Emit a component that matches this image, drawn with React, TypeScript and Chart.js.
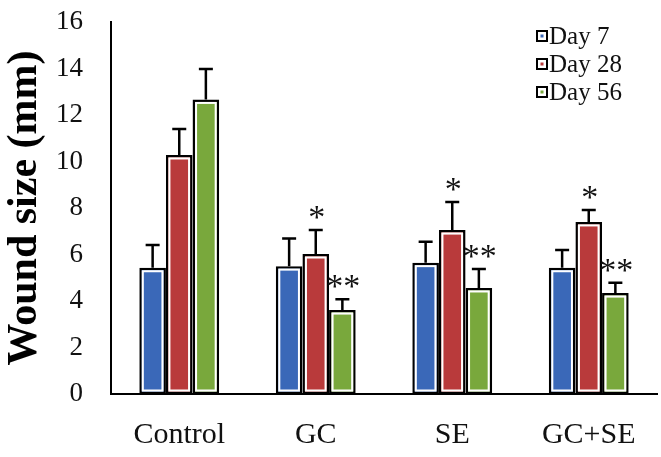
import React, { useEffect, useRef } from 'react';
import { Chart, registerables } from 'chart.js';

Chart.register(...registerables);

const categories = ['Control', 'GC', 'SE', 'GC+SE'];
const seriesNames = ['Day 7', 'Day 28', 'Day 56'];
const day7 = [5.43, 5.5, 5.65, 5.43];
const day28 = [10.28, 6.02, 7.05, 7.4];
const day56 = [12.67, 3.61, 4.56, 4.34];
const day7Err = [0.98, 1.19, 0.9, 0.76];
const day28Err = [1.12, 1.03, 1.21, 0.51];
const day56Err = [1.31, 0.47, 0.82, 0.45];
const day7Sig = ['', '', '', ''];
const day28Sig = ['', '*', '*', '*'];
const day56Sig = ['', '**', '**', '**'];
const yTicks = [0, 2, 4, 6, 8, 10, 12, 14, 16];

const colors = ['#3a68b8', '#b93a3b', '#79a83c'];
const errors = [day7Err, day28Err, day56Err];
const marks = [day7Sig, day28Sig, day56Sig];

const serif = '"Liberation Serif", "Times New Roman", serif';

// white ring inside the black bar border, then error bars and stars
const barDecor = {
    id: 'barDecor',
    afterDatasetsDraw(chart: any) {
        const ctx = chart.ctx;
        const yScale = chart.scales.y;
        chart.data.datasets.forEach((ds: any, di: number) => {
            const meta = chart.getDatasetMeta(di);
            meta.data.forEach((el: any, i: number) => {
                const { x, y, base, width } = el.getProps(['x', 'y', 'base', 'width'], true);
                const left = x - width / 2;
                ctx.save();
                ctx.strokeStyle = '#ffffff';
                ctx.lineWidth = 2;
                ctx.strokeRect(left + 3.5, y + 3.5, width - 7, base - y - 7);

                const capY = yScale.getPixelForValue(ds.data[i] + errors[di][i]);
                ctx.strokeStyle = '#000000';
                ctx.lineWidth = 2.5;
                ctx.beginPath();
                ctx.moveTo(x, y);
                ctx.lineTo(x, capY);
                ctx.moveTo(x - 7, capY);
                ctx.lineTo(x + 7, capY);
                ctx.stroke();

                const mark = marks[di][i];
                if (mark) {
                    ctx.fillStyle = '#111111';
                    ctx.font = '34px ' + serif;
                    ctx.textAlign = 'center';
                    ctx.textBaseline = 'alphabetic';
                    ctx.fillText(mark, x + 1, capY - 2);
                }
                ctx.restore();
            });
        });
    },
};

const cornerLegend = {
    id: 'cornerLegend',
    afterDraw(chart: any) {
        const ctx = chart.ctx;
        const area = chart.chartArea;
        const x0 = area.right - 120;
        ctx.save();
        chart.data.datasets.forEach((ds: any, i: number) => {
            const cy = area.top + 14 + i * 28;
            ctx.fillStyle = '#ffffff';
            ctx.fillRect(x0, cy - 5, 10, 10);
            ctx.strokeStyle = '#000000';
            ctx.lineWidth = 2;
            ctx.strokeRect(x0, cy - 5, 10, 10);
            ctx.fillStyle = ds.backgroundColor;
            ctx.fillRect(x0 + 3.5, cy - 1.5, 3, 3);
            ctx.fillStyle = '#111111';
            ctx.font = '25px ' + serif;
            ctx.textAlign = 'left';
            ctx.textBaseline = 'middle';
            ctx.fillText(ds.label, x0 + 12, cy + 1);
        });
        ctx.restore();
    },
};

const WoundChart = () => {
    const canvasRef = useRef<HTMLCanvasElement | null>(null);

    useEffect(() => {
        if (!canvasRef.current) return;

        const chart = new Chart(canvasRef.current, {
            type: 'bar',
            data: {
                labels: categories,
                datasets: [day7, day28, day56].map((values, i) => ({
                    label: seriesNames[i],
                    data: values,
                    backgroundColor: colors[i],
                    borderColor: '#000000',
                    borderWidth: 2.5,
                    borderSkipped: false,
                    barPercentage: 1,
                    categoryPercentage: 0.585,
                })),
            },
            options: {
                animation: false,
                responsive: true,
                maintainAspectRatio: false,
                layout: { padding: { top: 22, right: 4, left: 0, bottom: 0 } },
                plugins: {
                    legend: { display: false },
                    tooltip: { enabled: false },
                },
                scales: {
                    x: {
                        grid: { display: false },
                        border: { display: true, color: '#000000', width: 2 },
                        ticks: {
                            color: '#111111',
                            font: { family: serif, size: 30 },
                            padding: 15,
                        },
                        afterFit(scale: any) {
                            scale.height = 63;
                            scale.paddingLeft = 0;
                            scale.paddingRight = 0;
                        },
                    },
                    y: {
                        min: 0,
                        max: 16,
                        afterBuildTicks(scale: any) {
                            scale.ticks = yTicks.map((v) => ({ value: v }));
                        },
                        grid: { display: false },
                        border: { display: true, color: '#000000', width: 2 },
                        ticks: {
                            color: '#111111',
                            font: { family: serif, size: 27 },
                            padding: 20,
                        },
                        title: {
                            display: true,
                            text: 'Wound size (mm)',
                            color: '#000000',
                            font: { family: serif, size: 42, weight: 'bold' },
                            padding: { top: 0, bottom: 0 },
                        },
                        afterFit(scale: any) {
                            scale.width = 111;
                            scale.paddingTop = 0;
                            scale.paddingBottom = 0;
                        },
                    },
                },
            },
            plugins: [barDecor, cornerLegend],
        });

        return () => {
            chart.destroy();
        };
    }, []);

    return (
        <div style={{ position: 'fixed', left: 0, top: 0, width: 661, height: 457, background: '#ffffff' }}>
            <canvas ref={canvasRef}></canvas>
        </div>
    );
};

export default function App() {
    return <WoundChart />;
}
